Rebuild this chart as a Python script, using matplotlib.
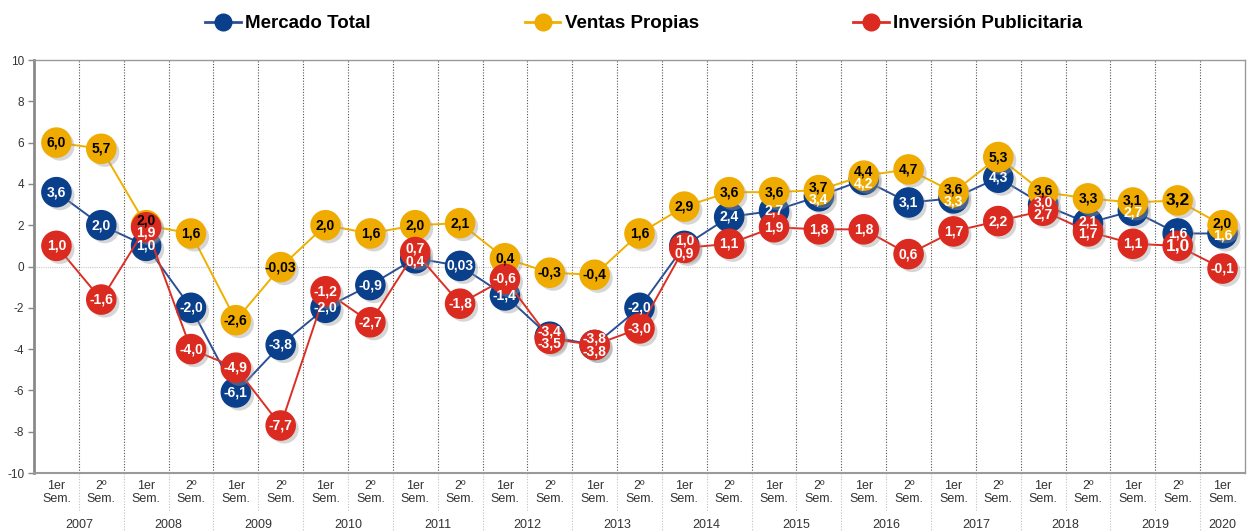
import numpy as np
import matplotlib.pyplot as plt
import matplotlib.patheffects as pe

plt.rcParams['font.family'] = ['Liberation Sans', 'DejaVu Sans']
plt.rcParams['axes.unicode_minus'] = False

# Semesters 2007 1er .. 2020 1er
years = ['2007', '2008', '2009', '2010', '2011', '2012', '2013', '2014',
         '2015', '2016', '2017', '2018', '2019', '2020']
sem_labels = ['1er\nSem.', '2º\nSem.'] * 13 + ['1er\nSem.']

mercado = [3.6, 2.0, 1.0, -2.0, -6.1, -3.8, -2.0, -0.9, 0.4, 0.03, -1.4, -3.4, -3.8, -2.0,
           1.0, 2.4, 2.7, 3.4, 4.2, 3.1, 3.3, 4.3, 3.0, 2.1, 2.7, 1.6, 1.6]
ventas = [6.0, 5.7, 2.0, 1.6, -2.6, -0.03, 2.0, 1.6, 2.0, 2.1, 0.4, -0.3, -0.4, 1.6,
          2.9, 3.6, 3.6, 3.7, 4.4, 4.7, 3.6, 5.3, 3.6, 3.3, 3.1, 3.2, 2.0]
inversion = [1.0, -1.6, 1.9, -4.0, -4.9, -7.7, -1.2, -2.7, 0.7, -1.8, -0.6, -3.5, -3.8, -3.0,
             0.9, 1.1, 1.9, 1.8, 1.8, 0.6, 1.7, 2.2, 2.7, 1.7, 1.1, 1.0, -0.1]


def fmt(v):
    if abs(v) < 0.1 and v != 0:
        return ('%.2f' % v).replace('.', ',')
    return ('%.1f' % v).replace('.', ',')


series = [
    ('Mercado Total', mercado, '#0a3f8b', '#2d4f95', 'white'),
    ('Ventas Propias', ventas, '#f0ab00', '#f0b000', 'black'),
    ('Inversión Publicitaria', inversion, '#db2a20', '#dc2f24', 'white'),
]

fig = plt.figure(figsize=(12.55, 5.31), dpi=100)
ax = fig.add_axes([0.0271, 0.1092, 0.9649, 0.7778])

x = np.arange(len(mercado))
shadow = [pe.SimplePatchShadow(offset=(2.5, -2.5), shadow_rgbFace='#999999', alpha=0.4),
          pe.Normal()]

handles = []
for z, (name, vals, mcol, lcol, tcol) in enumerate(series):
    ax.plot(x, vals, color=lcol, lw=1.4, zorder=3 + z * 2)
    ax.plot(x, vals, ls='none', marker='o', ms=21, mfc=mcol, mec=mcol,
            zorder=4 + z * 2, path_effects=shadow)
    h, = ax.plot([], [], color=lcol, lw=2, marker='o', ms=12, mfc=mcol, mec=mcol)
    handles.append(h)

# data labels, pushed apart where two values sit too close
gap = 0.6
for i in x:
    items = [(s[1][i], s[4], fmt(s[1][i])) for s in series]
    items.sort(key=lambda t: t[0])
    pos = [t[0] for t in items]
    for _ in range(20):
        for k in range(1, len(pos)):
            d = pos[k] - pos[k - 1]
            if d < gap:
                pos[k - 1] -= (gap - d) / 2
                pos[k] += (gap - d) / 2
    for (v, tcol, txt), p in zip(items, pos):
        fs = 10
        if i == 25 and txt in ('3,2', '1,0'):
            fs = 12.5
        ax.text(i, p, txt, ha='center', va='center', color=tcol, fontsize=fs,
                fontweight='bold', zorder=20)

ax.set_xlim(-0.5, len(x) - 0.5)
ax.set_ylim(-10, 10)
ax.set_yticks(np.arange(-10, 11, 2))
ax.tick_params(axis='y', labelsize=8.5, labelcolor='#333333', length=4, color='#888888',
               width=1, pad=3)
ax.set_xticks(x)
ax.set_xticklabels(sem_labels, fontsize=9, color='#333333', linespacing=1.1)
ax.tick_params(axis='x', length=0, pad=5)

for sp in ax.spines.values():
    sp.set_color('#9a9a9a')
    sp.set_linewidth(1)
ax.spines['left'].set_linewidth(2)
ax.spines['left'].set_color('#8a8a8a')
ax.spines['bottom'].set_linewidth(1.5)

# grid
ax.axhline(0, color='#c8c8c8', lw=0.8, ls=(0, (1, 1)), zorder=1)
for b in x[:-1] + 0.5:
    ax.axvline(b, color='#555555', lw=0.8, ls=(0, (1, 1.5)), zorder=1)
    ax.plot([b, b], [0, -0.095], transform=ax.get_xaxis_transform(), clip_on=False,
            color='#c0c0c0', lw=0.8, ls=(0, (1, 1.5)))
    if int(b + 0.5) % 2 == 0:
        ax.plot([b, b], [-0.095, -0.145], transform=ax.get_xaxis_transform(),
                clip_on=False, color='#c0c0c0', lw=0.8, ls=(0, (1, 1.5)))

for k, yr in enumerate(years):
    xc = 2 * k + 0.5 if k < len(years) - 1 else 2 * k
    ax.text(xc, -0.125, yr, transform=ax.get_xaxis_transform(), ha='center',
            va='center', fontsize=9, color='#333333')

fig.legend(handles, [s[0] for s in series], loc='center', bbox_to_anchor=(0.513, 0.955),
           ncol=3, frameon=False, prop={'size': 13.5, 'weight': 'bold'},
           columnspacing=8.2, handlelength=1.9, handletextpad=0.25)

fig.savefig('out.png', dpi=100)
